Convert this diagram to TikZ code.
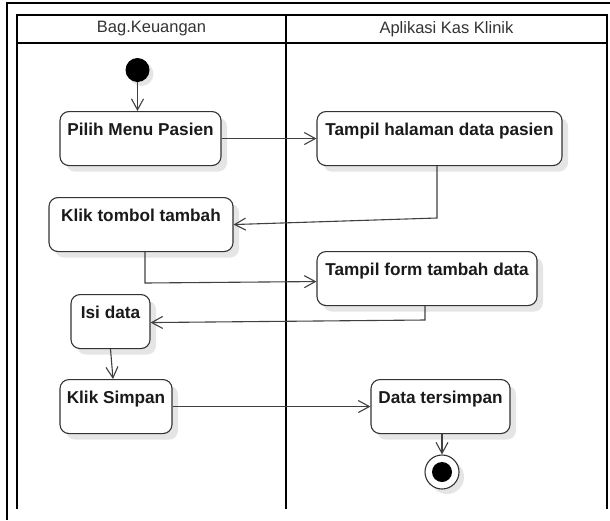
\documentclass[tikz,border=0pt]{standalone}
\usepackage{fontspec}
\setmainfont{Liberation Sans}
\usetikzlibrary{arrows.meta,shadows}
\definecolor{edgec}{HTML}{404040}
\definecolor{boxc}{HTML}{333333}
\definecolor{txtc}{HTML}{1A1A1A}
\definecolor{hdrc}{HTML}{333333}
\tikzset{
  frameline/.style={draw=black, line width=2pt},
  act/.style={draw=boxc, line width=1.1pt, rounded corners=9pt, fill=white,
    anchor=north, inner xsep=0pt, inner ysep=0pt, minimum height=54pt,
    text height=24pt, text depth=30pt, text=txtc,
    font=\fontsize{17.2}{20}\selectfont\bfseries,
    drop shadow={shadow xshift=6pt, shadow yshift=-6pt, fill=black!10, opacity=1}},
  hdr/.style={text=hdrc, font=\fontsize{16.5}{19}\selectfont, inner sep=0pt},
  flow/.style={draw=edgec, line width=1.1pt, -{Straight Barb[length=11pt,width=12pt]}},
  plain/.style={draw=edgec, line width=1.1pt}
}
\begin{document}
\begin{tikzpicture}[x=1pt,y=-1pt]
\useasboundingbox (0,0) rectangle (610,520);
% frames
\draw[frameline] (7,520) -- (7,3) -- (610,3);
\draw[frameline] (17,509) -- (17,15) -- (607,15) -- (607,509);
\draw[frameline] (17,43) -- (607,43);
\draw[frameline] (286,15) -- (286,509);
\node[hdr] (hdrL) at (151.5,29) {Bag.Keuangan};
\node[hdr] (hdrR) at (446.5,29) {Aplikasi Kas Klinik};
% start
\node[circle, fill=black, minimum size=24pt, inner sep=0pt,
  drop shadow={shadow xshift=4pt, shadow yshift=-4pt, fill=black!10, opacity=1}] (start) at (137.5,70) {};
% activities
\node[act, minimum width=161pt] (pilih) at (140.5,111) {Pilih Menu Pasien};
\node[act, minimum width=245pt] (tampil1) at (439.5,111) {Tampil halaman data pasien};
\node[act, minimum width=184pt] (klik1) at (141,197) {Klik tombol tambah};
\node[act, minimum width=220pt] (tampil2) at (427,251) {Tampil form tambah data};
\node[act, minimum width=79pt] (isi) at (110.5,294) {Isi data};
\node[act, minimum width=112pt] (klik2) at (116,379) {Klik Simpan};
\node[act, minimum width=139pt] (data) at (440.5,379) {Data tersimpan};
% end
\node[circle, draw=boxc, line width=1.1pt, fill=white, minimum size=34pt, inner sep=0pt,
  drop shadow={shadow xshift=5pt, shadow yshift=-5pt, fill=black!10, opacity=1}] (endring) at (442,472) {};
\node[circle, fill=black, minimum size=20pt, inner sep=0pt] (enddot) at (442,472) {};
% connectors
\coordinate (c1) at (437,218);
\coordinate (c2) at (145,283);
\coordinate (c3) at (425,320);
\draw[flow] (start) -- (start |- pilih.north);
\draw[flow] (pilih.east) -- (tampil1.west |- pilih.east);
\draw[flow] (tampil1.south -| c1) -- (c1) -- (klik1.east);
\draw[flow] (klik1.south -| c2) -- (c2) -- ([yshift=-3pt]tampil2.west);
\draw[flow] (tampil2.south -| c3) -- (c3) -- ([yshift=-1pt]isi.east);
\draw[flow] (isi.south) -- ([xshift=-3pt]klik2.north);
\draw[flow] (klik2.east) -- (data.west);
\draw[flow] (data.south -| endring) -- (endring.north);
\end{tikzpicture}
\end{document}
